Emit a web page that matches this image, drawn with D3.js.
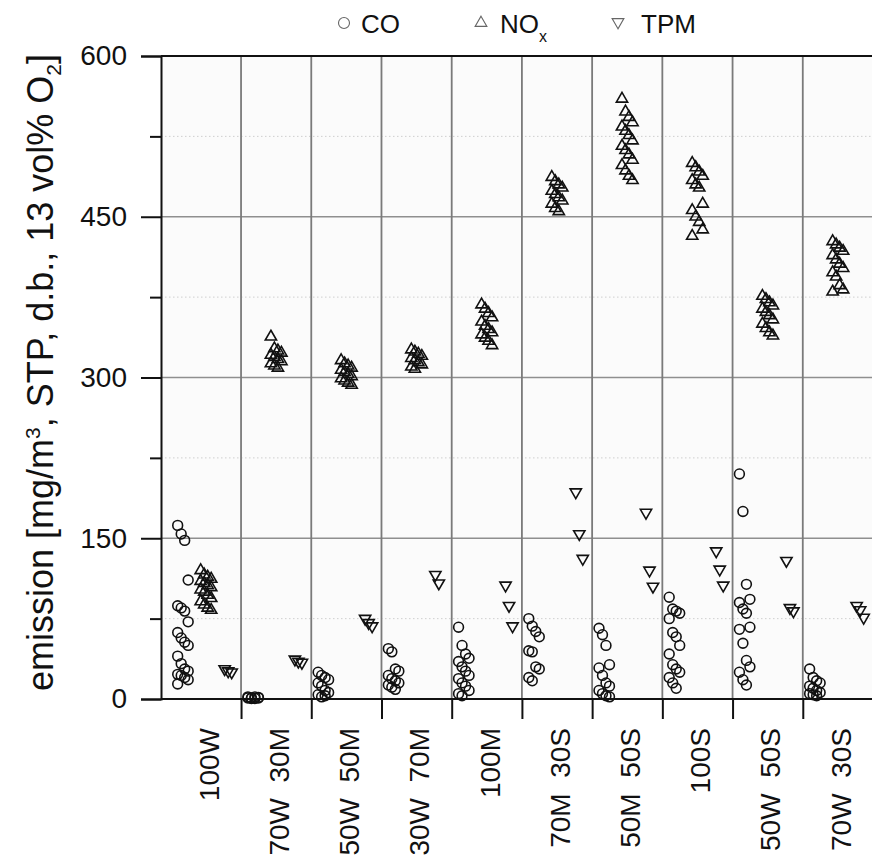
<!DOCTYPE html>
<html>
<head>
<meta charset="utf-8">
<script src="https://cdn.jsdelivr.net/npm/d3@7"></script>
<style>
  body { margin: 0; background: #fff; }
  svg { display: block; font-family: Arial, "Liberation Sans", sans-serif; }
</style>
</head>
<body>
<div id="chart"></div>
<script>
// Kategorien (Brennstoffmischungen)
const categories = ['100W', '70W 30M', '50W 50M', '30W 70M', '100M', '70M 30S', '50M 50S', '100S', '50W 50S', '70W 30S'];

// CO-Messwerte je Kategorie
const coValues = [
  [162, 154, 148, 111, 87, 85, 82, 72, 62, 57, 53, 50, 40, 33, 28, 26, 23, 22, 20, 18, 14],
  [2, 1, 0.5, 1.5, 1, 0.5, 2, 1],
  [25, 22, 20, 18, 15, 12, 8, 6, 4, 2, 3],
  [47, 44, 28, 26, 22, 19, 17, 15, 13, 11, 9],
  [67, 50, 42, 38, 35, 30, 26, 22, 19, 15, 12, 8, 5, 3],
  [75, 68, 63, 58, 45, 44, 30, 28, 20, 17],
  [66, 60, 50, 32, 29, 22, 15, 12, 8, 5, 3, 2],
  [95, 84, 82, 80, 75, 62, 58, 50, 42, 32, 28, 25, 20, 15, 10],
  [210, 175, 107, 93, 90, 84, 80, 67, 65, 52, 36, 30, 25, 18, 13],
  [28, 20, 17, 15, 12, 10, 8, 6, 5, 4, 3]
];

// NOx-Messwerte je Kategorie
const noxValues = [
  [120, 116, 114, 112, 110, 108, 106, 104, 102, 100, 97, 94, 91, 88, 85, 83],
  [338, 327, 325, 323, 321, 319, 317, 315, 313, 311, 309],
  [316, 313, 311, 309, 307, 305, 303, 301, 299, 297, 295, 293],
  [326, 324, 322, 320, 318, 316, 314, 312, 310, 308],
  [368, 364, 360, 356, 352, 348, 345, 342, 340, 337, 334, 330],
  [487, 483, 480, 477, 474, 471, 468, 465, 462, 458, 455],
  [560, 548, 543, 538, 534, 530, 526, 521, 516, 512, 508, 503, 498, 493, 488, 484],
  [500, 496, 492, 488, 484, 480, 477, 462, 456, 450, 445, 438, 432],
  [376, 373, 370, 367, 364, 361, 358, 354, 350, 346, 342, 339],
  [427, 424, 421, 418, 414, 410, 406, 402, 398, 394, 386, 382, 380]
];

// Gesamtstaub (TPM) je Kategorie
const tpmValues = [
  [28, 26, 25],
  [37, 35, 34],
  [75, 71, 68],
  [116, 108],
  [106, 87, 68],
  [193, 154, 131],
  [174, 120, 105],
  [138, 121, 106],
  [129, 85, 82],
  [87, 83, 76]
];

const yTicks = [0, 150, 300, 450, 600];
const yMinorTicks = [75, 225, 375, 525];

const width = 872, height = 857;
const plotLeft = 161, plotTop = 56, plotBottom = 699, plotRight = 873;

const svg = d3.select('#chart').append('svg')
  .attr('width', width)
  .attr('height', height);

const x = d3.scaleLinear().domain([0.36, 10.5]).range([plotLeft, plotRight]);
const y = d3.scaleLinear().domain([0, 600]).range([plotBottom, plotTop]);
const boundaries = d3.range(1.5, 10.5, 1);

// Hintergrund
svg.append('rect')
  .attr('x', plotLeft).attr('y', plotTop)
  .attr('width', plotRight - plotLeft).attr('height', plotBottom - plotTop)
  .attr('fill', '#fbfbfb');

// Gitter: gepunktet (Nebenteilung), durchgezogen (Hauptteilung)
svg.append('g').selectAll('line')
  .data(yMinorTicks)
  .join('line')
    .attr('x1', plotLeft).attr('x2', plotRight)
    .attr('y1', d => y(d)).attr('y2', d => y(d))
    .attr('stroke', '#cfcfcf')
    .attr('stroke-dasharray', '1.5,2.5');

svg.append('g').selectAll('line')
  .data(yTicks.slice(1, -1))
  .join('line')
    .attr('x1', plotLeft).attr('x2', plotRight)
    .attr('y1', d => y(d)).attr('y2', d => y(d))
    .attr('stroke', '#8f8f8f')
    .attr('stroke-width', 1.5);

svg.append('g').selectAll('line')
  .data(boundaries)
  .join('line')
    .attr('x1', d => x(d)).attr('x2', d => x(d))
    .attr('y1', plotTop).attr('y2', plotBottom)
    .attr('stroke', '#7a7a7a')
    .attr('stroke-width', 1.8);

// Achsen
const yAxis = svg.append('g')
  .attr('transform', `translate(${plotLeft},0)`)
  .call(d3.axisLeft(y).tickValues(yTicks).tickSize(20).tickPadding(14));
svg.append('g')
  .attr('transform', `translate(${plotLeft},0)`)
  .call(d3.axisLeft(y).tickValues(yMinorTicks).tickSize(11).tickFormat(''))
  .call(g => g.select('.domain').remove());

yAxis.selectAll('text')
  .attr('font-size', 28)
  .attr('fill', '#111');

const xAxis = svg.append('g')
  .attr('transform', `translate(0,${plotBottom})`)
  .call(d3.axisBottom(x).tickValues(boundaries).tickSize(20).tickFormat(''));
xAxis.select('.domain').attr('d', `M${plotLeft},0H${plotRight}`);

svg.selectAll('.domain, .tick line')
  .attr('stroke', '#111')
  .attr('stroke-width', 2);

// Rahmen oben
svg.append('line')
  .attr('x1', plotLeft).attr('x2', plotRight)
  .attr('y1', plotTop).attr('y2', plotTop)
  .attr('stroke', '#111')
  .attr('stroke-width', 2);

// Kategorie-Beschriftungen (gedreht)
svg.append('g').selectAll('text')
  .data(categories)
  .join('text')
    .attr('transform', (d, i) => `translate(${x(i + 1) + 3},${plotBottom + 29}) rotate(-90)`)
    .attr('text-anchor', 'end')
    .attr('dy', '0.35em')
    .attr('font-size', 28)
    .attr('fill', '#111')
    .style('white-space', 'pre')
    .text(d => d.replace(' ', '  '));

// y-Achsentitel
const yTitle = svg.append('text')
  .attr('transform', `translate(53,${(plotTop + plotBottom) / 2 - 5}) rotate(-90)`)
  .attr('text-anchor', 'middle')
  .attr('font-size', 36)
  .attr('fill', '#111');
yTitle.append('tspan').text('emission [mg/m');
yTitle.append('tspan').attr('font-size', 21).attr('dy', -13).text('3');
yTitle.append('tspan').attr('dy', 13).text(', STP, d.b., 13 vol% O');
yTitle.append('tspan').attr('font-size', 21).attr('dy', 8).text('2');
yTitle.append('tspan').attr('dy', -8).text(']');

// Punkte: CO links, NOx Mitte, TPM rechts, leicht gestreut
const jitter = i => ((i % 4) - 1.5) * 3.5;
const triUp = d3.symbol(d3.symbolTriangle).size(55)();

const series = [
  { name: 'CO', values: coValues, offset: -23, shape: 'circle' },
  { name: 'NOx', values: noxValues, offset: 0, shape: 'up' },
  { name: 'TPM', values: tpmValues, offset: 24, shape: 'down' }
];

series.forEach(s => {
  const pts = s.values.flatMap((vals, c) => vals.map((v, i) => ({ c, v, i })));
  const g = svg.append('g').attr('class', 'pts-' + s.name);
  const sel = g.selectAll('.pt').data(pts).join(s.shape === 'circle' ? 'circle' : 'path')
    .attr('class', 'pt')
    .attr('fill', 'none')
    .attr('stroke', '#111')
    .attr('stroke-width', 1.6);
  if (s.shape === 'circle') {
    sel.attr('cx', d => x(d.c + 1) + s.offset + jitter(d.i))
       .attr('cy', d => y(d.v))
       .attr('r', 4.9);
  } else {
    sel.attr('d', triUp)
       .attr('transform', d => `translate(${x(d.c + 1) + s.offset + jitter(d.i)},${y(d.v)})` +
         (s.shape === 'down' ? ' rotate(180)' : ''));
  }
});

// Legende
const legend = svg.append('g').attr('font-size', 26).attr('fill', '#111');
legend.append('circle').attr('cx', 344).attr('cy', 23).attr('r', 5.5)
  .attr('fill', 'none').attr('stroke', '#666').attr('stroke-width', 1.1);
legend.append('text').attr('x', 361).attr('y', 33).text('CO');
legend.append('path').attr('d', d3.symbol(d3.symbolTriangle).size(60)())
  .attr('transform', 'translate(481,23)')
  .attr('fill', 'none').attr('stroke', '#666').attr('stroke-width', 1.1);
const nox = legend.append('text').attr('x', 500).attr('y', 33);
nox.append('tspan').text('NO');
nox.append('tspan').attr('font-size', 16).attr('dy', 9).text('x');
legend.append('path').attr('d', d3.symbol(d3.symbolTriangle).size(60)())
  .attr('transform', 'translate(618,22) rotate(180)')
  .attr('fill', 'none').attr('stroke', '#666').attr('stroke-width', 1.1);
legend.append('text').attr('x', 641).attr('y', 33).text('TPM');
</script>
</body>
</html>
